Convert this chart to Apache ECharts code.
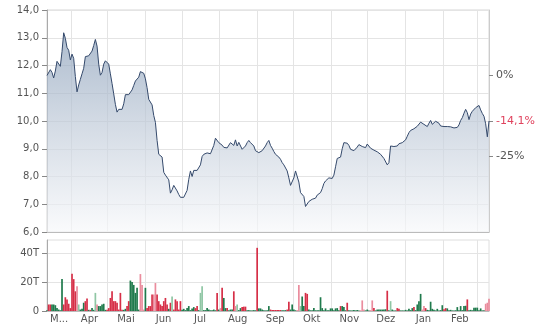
<!DOCTYPE html>
<html>
<head>
<meta charset="utf-8">
<script src="https://cdn.jsdelivr.net/npm/echarts@6/dist/echarts.min.js"></script>
<style>
html, body { margin: 0; padding: 0; background: #fff; }
#main { width: 543px; height: 332px; }
</style>
</head>
<body>
<div id="main"></div>
<script>
// Zeitraum des Charts (ein Jahr), Kurse gleichmäßig darüber verteilt
const startDate = '2022-03-12';
const endDate = '2023-03-11';

// Schlusskurse
const prices = [
  11.64, 11.6, 11.85, 11.75, 11.55, 11.8, 12.15, 12.1, 11.97, 12.5,
  13.18, 12.98, 12.65, 12.55, 12.2, 12.41, 12.26, 11.6, 11.05, 11.3,
  11.5, 11.7, 11.9, 12.32, 12.3, 12.35, 12.42, 12.52, 12.72, 12.94,
  12.7, 12.05, 11.65, 11.75, 12.05, 12.17, 12.1, 12.05, 11.7, 11.35,
  10.98, 10.6, 10.32, 10.42, 10.48, 10.42, 10.62, 10.95, 11.02, 10.95,
  10.98, 11.12, 11.28, 11.44, 11.49, 11.58, 11.78, 11.81, 11.72, 11.52,
  11.2, 10.78, 10.76, 10.58, 10.2, 9.95, 9.3, 8.8, 8.76, 8.7,
  8.15, 8.05, 8.08, 7.88, 7.4, 7.52, 7.68, 7.62, 7.48, 7.35,
  7.25, 7.25, 7.25, 7.25, 7.5, 7.9, 8.2, 8.0, 8.22, 8.25,
  8.22, 8.17, 8.42, 8.72, 8.8, 8.81, 8.85, 8.88, 8.82, 8.85,
  9.12, 9.38, 9.4, 9.22, 9.22, 9.13, 9.05, 8.99, 9.03, 8.98,
  9.22, 9.25, 9.12, 9.32, 9.1, 9.23, 9.3, 8.98, 8.95, 9.1,
  9.22, 9.3, 9.22, 9.24, 9.1, 8.93, 8.86, 8.86, 8.9, 8.93,
  9.0, 9.1, 9.22, 9.3, 9.12, 9.02, 8.9, 8.8, 8.82, 8.7,
  8.62, 8.5, 8.42, 8.37, 8.2, 7.95, 7.68, 7.7, 7.95, 8.2,
  8.2, 7.8, 7.42, 7.43, 7.28, 6.92, 6.98, 7.1, 7.1, 7.18,
  7.2, 7.22, 7.33, 7.36, 7.42, 7.56, 7.75, 7.84, 7.86, 7.95,
  7.97, 7.93, 8.05, 8.35, 8.65, 8.62, 8.7, 9.0, 9.22, 9.24,
  9.2, 9.12, 8.98, 8.95, 8.93, 8.99, 9.06, 9.15,
  9.2, 9.08, 9.13, 9.04, 9.17, 9.18, 9.02, 8.98, 8.95, 8.97,
  8.89, 8.86, 8.8, 8.73, 8.65, 8.58, 8.42, 8.5, 9.1, 9.04,
  9.08, 9.15, 9.1, 9.18, 9.18, 9.22, 9.22, 9.32, 9.45, 9.58,
  9.66, 9.66, 9.72, 9.78, 9.81, 9.85, 9.96, 9.96, 9.88, 9.95,
  9.8, 9.92, 10.02, 9.88, 9.9, 9.99, 10.05, 9.92, 9.82, 9.82,
  9.8, 9.82, 9.8, 9.8, 9.79, 9.78, 9.75, 9.72, 9.77, 9.86,
  10.02, 10.12, 10.28, 10.42, 10.3, 10.05, 10.25, 10.35, 10.42, 10.48,
  10.52, 10.56, 10.4, 10.27, 10.17, 9.9, 9.43, 10.0
];

// Umsatz in Tausend Stück
const volumes = [
  0.5, 4.5, 4.5, 4.5, 4.5, 4, 2, 1, 0.5, 22,
  4.5, 9.5, 8, 5, 2, 25.7, 22, 13.6, 17, 4.5,
  1, 1.5, 5.7, 6.8, 8.6, 0.8, 0.8, 2, 0.8, 12.5,
  4.5, 3.4, 3.4, 4.5, 5, 0.8, 0.8, 2, 9, 13.6,
  6.8, 6.8, 5.7, 1, 12.5, 0.8, 0.8, 1.5, 3.4, 6.8,
  21, 20, 18, 12.5, 16, 1, 25.5, 18, 1, 16,
  2, 3.4, 3.4, 11.4, 11.4, 19.3, 11.4, 6.8, 4.5, 3.4,
  6.8, 9, 4.5, 1.5, 5.7, 10, 1, 8, 6.8, 1,
  6.8, 0.8, 1.5, 0.6, 2, 3.4, 0.6, 1.8, 2.7, 2,
  3.4, 0.6, 12.5, 17, 0.6, 0.6, 2, 1, 0.5, 0.5,
  1, 0.5, 12.5, 1, 2, 16, 9, 2, 2, 0.5,
  1, 1, 13.6, 3.4, 4.5, 0.6, 2, 2.7, 3, 3,
  0.5, 0.6, 0.4, 0.4, 0.6, 0.5, 43.6, 1.8, 1.8, 1,
  0.5, 0.4, 0.5, 3.4, 1, 0.7, 0.7, 0.7, 0.7, 0.7,
  0.7, 0.5, 0.5, 0.6, 1, 6.4, 1, 4.5, 1, 0.5,
  0.6, 18, 3.4, 10, 3.4, 12.5, 11.8, 1, 0.5, 0.5,
  2, 0.5, 0.5, 0.5, 9.5, 2, 0.5, 1.8, 0.5, 0.6,
  1.8, 1.8, 0.6, 1.8, 2, 0.5, 3.4, 3.4, 2.7, 0.5,
  5.7, 0.6, 0.4, 0.4, 0.7, 0.4, 0.7, 0.4, 0.5, 7.3,
  1, 0.4, 1, 0.4, 0.6, 7.3, 2, 0.4, 1, 1,
  1, 1, 1, 1.2, 14, 0.6, 6.8, 1, 0.4, 0.4,
  2, 1.6, 0.4, 0.4, 0.4, 0.8, 0.4, 1.5, 0.6, 2,
  2.7, 0.6, 4.5, 6.8, 11.8, 1, 3.4, 2, 0.8, 0.5,
  6.4, 1.5, 0.8, 0.4, 1.5, 0.4, 0.6, 4, 1.2, 2,
  1.8, 0.5, 0.8, 0.4, 0.4, 0.5, 2.7, 0.6, 3.4, 0.6,
  3.4, 3.6, 8, 0.5, 0.8, 0.5, 2.3, 2.3, 2.3, 0.6,
  1.8, 0.4, 0.5, 5, 5.7, 8.4
];
// r = fallend, g = steigend, p / l = andere Handelsplätze
const volumeKinds =
  'grrggggggg' + 'rrrrrrrrpl' + 'gggrrgrggl' + 'pgggggrrrr' + 'rrrrrrggrr' +
  'ggggggpppg' + 'rrrrpprrrr' + 'rrrgrlrrrr' + 'rggggggggr' + 'rgllgggggg' +
  'ggrgprggrg' + 'ggrplggrrr' + 'ggggggrggg' + 'ggggrrrrrr' + 'rgggrrgggg' +
  'pplggrrggg' + 'gggggggggg' + 'ggggggrggg' + 'rgggggggpp' + 'pgggpprggg' +
  'ggggrglggg' + 'rrgggggggg' + 'rggggpprgg' + 'ggggggggrr' + 'gggggggggg' +
  'ggrggggggg' + 'gggppp';
const kindColors = { r: '#d62f47', g: '#1f7a4c', p: '#ea8c9d', l: '#8fc6a4' };

// Monatsanfänge (Gitterlinien) und Beschriftungen in Monatsmitte
const monthStarts = ['2022-04-01', '2022-05-01', '2022-06-01', '2022-07-01', '2022-08-01', '2022-09-01',
  '2022-10-01', '2022-11-01', '2022-12-01', '2023-01-01', '2023-02-01', '2023-03-01'];
const labelDates = ['2022-03-22', '2022-04-16', '2022-05-16', '2022-06-16', '2022-07-16', '2022-08-16',
  '2022-09-16', '2022-10-16', '2022-11-16', '2022-12-16', '2023-01-16', '2023-02-15'];
const labelTexts = ['M...', 'Apr', 'Mai', 'Jun', 'Jul', 'Aug', 'Sep', 'Okt', 'Nov', 'Dez', 'Jan', 'Feb'];

// Umsatz-Achse
const volumeTicks = [0, 20, 40];

const toTime = d => Date.parse(d + 'T00:00:00Z');
const t0 = toTime(startDate);
const t1 = toTime(endDate);
const step = (t1 - t0) / (prices.length - 1);
const times = prices.map((p, i) => t0 + i * step);

const monthTicks = monthStarts.map(toTime);
const labelTimes = labelDates.map(toTime);

const base = prices[0];
const last = prices[prices.length - 1];
const pctValues = [base * 0.75, last, base].sort((a, b) => a - b);

function pctText (v) {
    const r = Math.round((v / base - 1) * 1000) / 10;
    return (r % 1 === 0 ? String(r) : r.toFixed(1).replace('.', ',')) + '%';
}

var myChart = echarts.init(document.getElementById('main'));

const gridLine = { show: true, lineStyle: { color: '#e4e4e4', width: 1 } };
const axisText = { color: '#555', fontFamily: 'DejaVu Sans', fontSize: 10 };

// x-Achsen als Zahlenachsen über Zeitstempel, damit Gitter und Beschriftung frei wählbar sind
function timeAxis (gridIndex, withLabels) {
    return {
        type: 'value', gridIndex: gridIndex, min: t0, max: t1, scale: true,
        axisLine: { show: true, onZero: false, lineStyle: { color: '#bbb' } },
        axisTick: { show: false, customValues: monthTicks },
        axisLabel: withLabels ? Object.assign({}, axisText, {
            customValues: labelTimes,
            margin: 3,
            hideOverlap: false,
            formatter: function (v) {
                const k = labelTimes.indexOf(v);
                return k >= 0 ? labelTexts[k] : '';
            }
        }) : { show: false },
        splitLine: gridLine
    };
}

const option = {
    animation: false,
    grid: [
        { left: 47, right: 54, top: 10, height: 222, show: true, borderColor: '#d6d6d6', borderWidth: 1 },
        { left: 47, right: 54, top: 240, height: 71, show: true, borderColor: '#dedede', borderWidth: 1 }
    ],
    xAxis: [timeAxis(0, false), timeAxis(1, true)],
    yAxis: [
        {
            type: 'value', gridIndex: 0, min: 6, max: 14, interval: 1,
            axisLine: { show: true, lineStyle: { color: '#aaa' } },
            axisTick: { show: true, length: 5, lineStyle: { color: '#888' } },
            axisLabel: Object.assign({}, axisText, {
                margin: 8,
                formatter: v => v.toFixed(1).replace('.', ',')
            }),
            splitLine: gridLine
        },
        {
            type: 'value', gridIndex: 0, min: 6, max: 14, position: 'right',
            axisLine: { show: true, lineStyle: { color: '#ccc' } },
            axisTick: { show: true, length: 4, customValues: pctValues, lineStyle: { color: '#888' } },
            axisLabel: {
                customValues: pctValues,
                margin: 7,
                fontFamily: 'DejaVu Sans', fontSize: 11,
                color: v => Math.abs(v - last) < 1e-9 ? '#e0435e' : '#555',
                formatter: pctText
            },
            splitLine: { show: false }
        },
        {
            type: 'value', gridIndex: 1, min: 0, max: 49,
            axisLine: { show: true, lineStyle: { color: '#aaa' } },
            axisTick: { show: true, length: 5, customValues: volumeTicks, lineStyle: { color: '#888' } },
            axisLabel: Object.assign({}, axisText, {
                customValues: volumeTicks,
                margin: 8,
                formatter: v => v === 0 ? '0' : v + 'T'
            }),
            splitLine: gridLine
        }
    ],
    series: [
        {
            name: 'Kurs',
            type: 'line',
            xAxisIndex: 0, yAxisIndex: 0,
            data: prices.map((p, i) => [times[i], p]),
            symbol: 'none',
            lineStyle: { color: '#34496b', width: 1 },
            areaStyle: {
                origin: 'start',
                color: new echarts.graphic.LinearGradient(0, 0, 0, 1, [
                    { offset: 0, color: '#8a9fb9' },
                    { offset: 0.45, color: '#bfcad8' },
                    { offset: 1, color: '#f7f8fa' }
                ])
            }
        },
        {
            name: 'Umsatz',
            type: 'bar',
            xAxisIndex: 1, yAxisIndex: 2,
            barWidth: 1.7,
            data: volumes.map((v, i) => ({
                value: [times[i], v],
                itemStyle: { color: kindColors[volumeKinds[i]] }
            }))
        }
    ]
};

myChart.setOption(option);
</script>
</body>
</html>
